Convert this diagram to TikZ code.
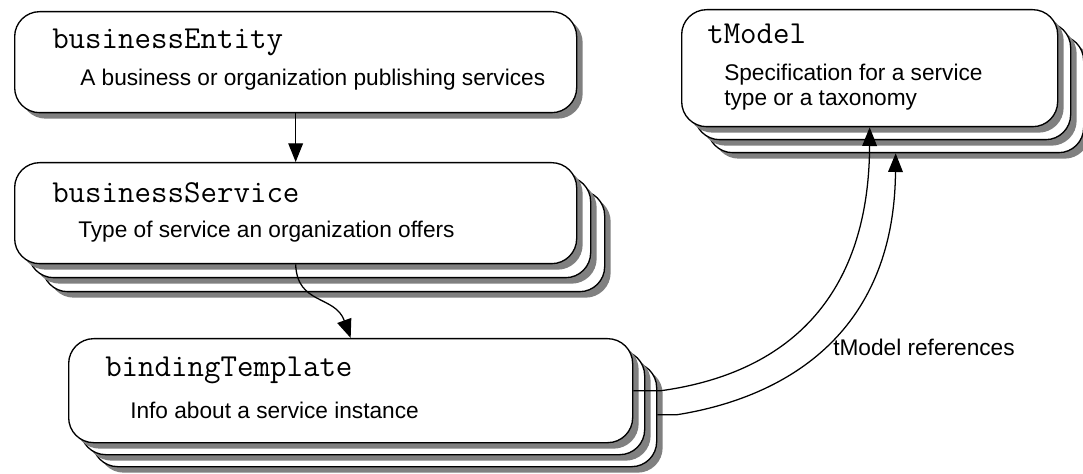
\documentclass[tikz,border=0pt]{standalone}
\usepackage{fontspec}
\setmainfont{Liberation Sans}
\usetikzlibrary{shadows,arrows.meta}
\definecolor{shadowgray}{RGB}{128,128,128}
\tikzset{
  card/.style={draw=black, line width=1pt, fill=white, rounded corners=18.75pt,
    anchor=north west, inner sep=0pt,
    drop shadow={shadow xshift=4.5pt, shadow yshift=-4.5pt, fill=shadowgray, opacity=1}},
  wide/.style={minimum width=421.5pt, minimum height=75.75pt},
  narrow/.style={minimum width=282pt, minimum height=87.75pt},
  title/.style={anchor=west, inner sep=0pt, font=\ttfamily\fontsize{24}{26}\selectfont},
  desc/.style={anchor=west, inner sep=0pt, align=left, font=\fontsize{17}{19}\selectfont},
  link/.style={draw=black, line width=0.95pt, -{Triangle[length=14pt, width=11pt]}}
}
\begin{document}
\begin{tikzpicture}[x=0.75pt, y=-0.75pt]
\useasboundingbox (0,0) rectangle (1083,474);
\fill[white] (0,0) rectangle (1083,474);

% businessEntity: single card
\node[card, wide] (be) at (14,11) {};
\node[title] (beT) at (52,42) {businessEntity};
\node[desc] (beD) at (80,80) {A business or organization publishing services};

% businessService: stack of three cards
\node[card, wide] (bs3) at (42,190) {};
\node[card, wide] (bs2) at (28,176) {};
\node[card, wide] (bs) at (14,162) {};
\node[title] (bsT) at (52,193) {businessService};
\node[desc] (bsD) at (78,232) {Type of service an organization offers};

% bindingTemplate: stack of three cards
\node[card, wide, minimum width=423pt, minimum height=78pt] (bt3) at (92,362) {};
\node[card, wide, minimum width=423pt, minimum height=78pt] (bt2) at (80,350) {};
\node[card, wide, minimum width=423pt, minimum height=78pt] (bt) at (68,338) {};
\node[title] (btT) at (105,370) {bindingTemplate};
\node[desc] (btD) at (130,410) {Info about a service instance};

% tModel: stack of three cards
\node[card, narrow] (tm3) at (707,35) {};
\node[card, narrow] (tm2) at (694,22) {};
\node[card, narrow] (tm) at (681,9) {};
\node[title] (tmT) at (707,34) {tModel};
\node[desc] (tmD) at (724,87) {Specification for a service\\type or a taxonomy};

% connectors
\draw[link] (be.south) -- (bs.north);
\draw[link] (bs.south) .. controls (297,305) and (335,295) .. (bt.north);
\draw[link] (bt.east) -- ++(28,0) .. controls (795,372) and (869,290) .. (tm.south);
\draw[link] (bt3.east) -- ++(20,0) .. controls (770,400) and (894,345) .. (tm3.south);
\node[desc] (refs) at (833,347) {tModel references};
\end{tikzpicture}
\end{document}
